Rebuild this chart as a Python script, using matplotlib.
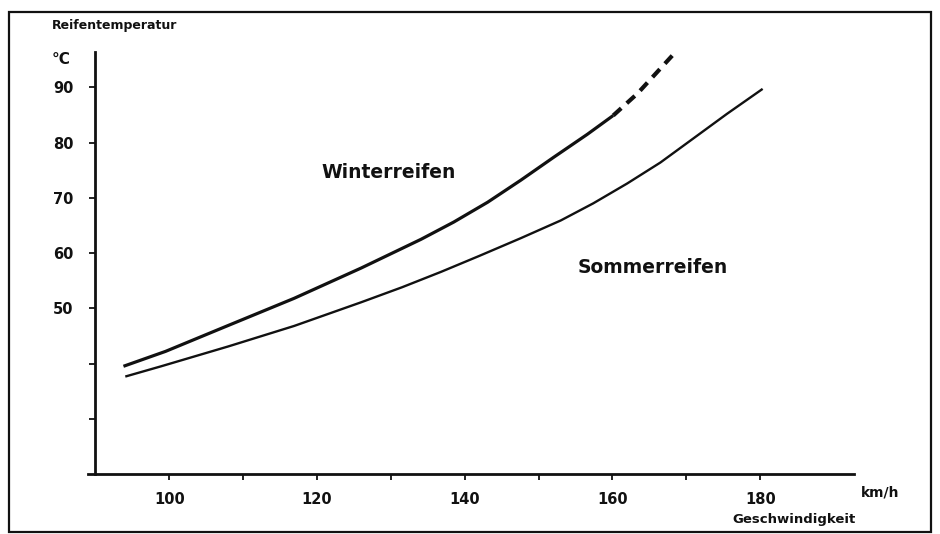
import matplotlib
matplotlib.use("Agg")
import matplotlib.pyplot as plt
from matplotlib.patches import Rectangle

# ---- data ----
winter_speed = [93.8, 99.5, 108, 116.9, 126, 134.1, 138.5, 143.1, 147.6, 152.0, 156.6, 160.1]
winter_temp = [39.5, 42.2, 46.9, 51.8, 57.3, 62.5, 65.6, 69.2, 73.2, 77.3, 81.5, 84.9]
winter_ext_speed = [160.1, 163.4, 168.2]
winter_ext_temp = [84.9, 88.9, 95.9]
summer_speed = [94.2, 98.9, 108, 116.9, 126, 131.5, 136.8, 142.0, 147.6, 153, 157.4, 162, 166.5, 170.9, 175.5, 180.2]
summer_temp = [37.7, 39.5, 43.1, 46.8, 51.1, 53.8, 56.6, 59.5, 62.7, 65.9, 69.0, 72.6, 76.4, 80.7, 85.2, 89.6]

x_ticks = [100, 110, 120, 130, 140, 150, 160, 170, 180]
x_labels = ["100", "", "120", "", "140", "", "160", "", "180"]
y_ticks = [30, 40, 50, 60, 70, 80, 90]
y_labels = ["", "", "50", "60", "70", "80", "90"]

plt.rcParams['font.family'] = ['DejaVu Sans']

fig = plt.figure(figsize=(9.4, 5.34), dpi=100)
fig.patch.set_facecolor("white")

# outer frame
fig.patches.append(Rectangle((9 / 940, 2 / 534), 922 / 940, 520 / 534,
                             transform=fig.transFigure, fill=False,
                             edgecolor="#111111", linewidth=1.6))

ax = fig.add_axes([88 / 940, 60 / 534, 766 / 940, 422 / 534])
ax.set_xlim(89, 192.7)
ax.set_ylim(20, 96.4)
ax.spines['left'].set_position(('data', 90))
ax.spines['top'].set_visible(False)
ax.spines['right'].set_visible(False)
for s in ('left', 'bottom'):
    ax.spines[s].set_linewidth(2.0)
    ax.spines[s].set_color("#111111")

ax.plot(winter_speed, winter_temp, color="#111111", lw=2.3,
        solid_joinstyle='round', solid_capstyle='butt')
ax.plot(winter_ext_speed, winter_ext_temp, color="#111111", lw=3.0,
        dashes=(2.6, 1.8), dash_capstyle='butt', dash_joinstyle='round')
ax.plot(summer_speed, summer_temp, color="#111111", lw=1.7,
        solid_joinstyle='round')

ax.set_xticks(x_ticks)
ax.set_xticklabels(x_labels)
ax.set_yticks(y_ticks)
ax.set_yticklabels(y_labels)
ax.tick_params(axis='both', direction='out', length=4, width=1.3,
               color="#111111", labelsize=10.5, labelcolor="#111111")
ax.tick_params(axis='x', pad=9)
ax.tick_params(axis='y', pad=12)
for lab in ax.get_xticklabels() + ax.get_yticklabels():
    lab.set_fontweight('bold')

ax.text(129.7, 74.6, "Winterreifen", fontsize=13.5, fontweight='bold',
        ha='center', va='center', color="#111111")
ax.text(165.4, 57.3, "Sommerreifen", fontsize=13.5, fontweight='bold',
        ha='center', va='center', color="#111111")

fig.text(52 / 940, 1 - 25 / 534, "Reifentemperatur", fontsize=9, fontweight='bold',
         ha='left', va='center', color="#111111")
fig.text(52 / 940, 1 - 60 / 534, "°C", fontsize=11, fontweight='bold',
         ha='left', va='center', color="#111111")
fig.text(880 / 940, 1 - 492 / 534, "km/h", fontsize=10, fontweight='bold',
         ha='center', va='center', color="#111111")
fig.text(794 / 940, 1 - 520 / 534, "Geschwindigkeit", fontsize=9.5, fontweight='bold',
         ha='center', va='center', color="#111111")

fig.savefig("out.png", dpi=100, facecolor="white")
